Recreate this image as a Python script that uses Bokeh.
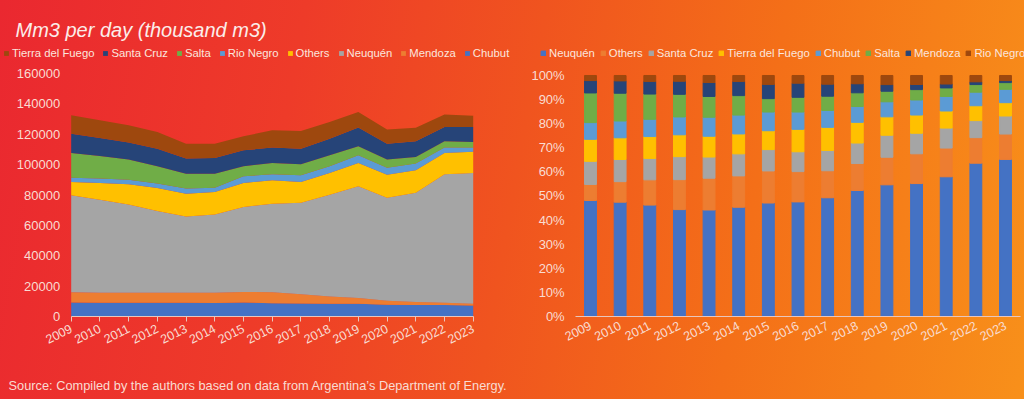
import numpy as np
from bokeh.plotting import figure
from bokeh.models import (ColumnDataSource, Range1d, FixedTicker, BasicTickFormatter,
                          NumeralTickFormatter, Legend, LegendItem, Label)
from bokeh.layouts import row
from bokeh.embed import file_html
from bokeh.resources import INLINE

# ---------------- data (thousand m3 per day) ----------------
years = list(range(2009, 2024))

chubut           = [9200, 9000, 9000, 9000, 9000, 8900, 9200, 8800, 8600, 8400, 8400, 7700, 7500, 7500, 7300]
mendoza          = [6800, 6600, 6600, 6600, 6600, 6700, 7000, 7200, 6100, 4800, 3700, 2600, 2000, 1500, 1100]
neuquen          = [63800, 61300, 58200, 53900, 50300, 51600, 55900, 58300, 60200, 67000, 73600, 67900, 72000, 84600, 86100]
others           = [8800, 11000, 13200, 15100, 15000, 14800, 15800, 15400, 13700, 14300, 15400, 15200, 14800, 14100, 13900]
rio_negro        = [2800, 2900, 3100, 2900, 3300, 2800, 4400, 3900, 4400, 4400, 5100, 4600, 4400, 3500, 2800]
salta            = [16300, 14900, 13200, 11400, 9800, 9200, 6600, 7500, 7200, 7300, 5900, 5300, 4400, 4200, 3700]
santa_cruz       = [12700, 11900, 11200, 11600, 10000, 10400, 10500, 10100, 10300, 10900, 12300, 10500, 10300, 9400, 9900]
tierra_del_fuego = [12100, 11600, 11400, 11000, 9800, 9400, 9300, 11400, 11700, 11000, 10300, 9300, 8800, 8200, 7300]

left_ticks = [0, 20000, 40000, 60000, 80000, 100000, 120000, 140000, 160000]
right_ticks = [0, 0.1, 0.2, 0.3, 0.4, 0.5, 0.6, 0.7, 0.8, 0.9, 1.0]

FONT = "Liberation Sans"
TXT = "#F9DCD2"
AXIS = "#E9C6BC"
GRADIENT = ("linear-gradient(100deg,#EA2830 0%,#EE3B29 28%,#F0541F 50%,"
            "#F46F18 72%,#F8901A 100%)")

C_BLUE, C_ORANGE, C_GRAY, C_YELLOW = "#4472C4", "#ED7D31", "#A5A5A5", "#FFC000"
C_LBLUE, C_GREEN, C_NAVY, C_BROWN = "#5B9BD5", "#70AD47", "#264478", "#9E480E"


def style(p):
    p.background_fill_alpha = 0
    p.border_fill_alpha = 0
    p.outline_line_color = None
    p.xgrid.visible = False
    p.ygrid.visible = False
    p.min_border_left = p.min_border_right = p.min_border_top = p.min_border_bottom = 0
    for ax in p.xaxis:
        ax.axis_line_color = AXIS
        ax.major_tick_line_color = AXIS
        ax.major_tick_in = 0
        ax.major_tick_out = 5
        ax.minor_tick_line_color = None
        ax.major_label_text_color = TXT
        ax.major_label_text_font = FONT
        ax.major_label_text_font_size = "12.5px"
        ax.major_label_orientation = 0.47
        ax.major_label_standoff = 8
        ax.fixed_location = 0
    for ax in p.yaxis:
        ax.axis_line_color = None
        ax.major_tick_line_color = None
        ax.major_tick_in = 0
        ax.major_tick_out = 0
        ax.minor_tick_line_color = None
        ax.major_label_text_color = TXT
        ax.major_label_text_font = FONT
        ax.major_label_text_font_size = "13px"
        ax.major_label_standoff = 11


def make_legend(items, x, y, spacing):
    return Legend(items=items, orientation="horizontal", location=(x, y),
                  background_fill_alpha=0, border_line_alpha=0, padding=0, margin=0,
                  spacing=spacing, glyph_width=6, glyph_height=6, label_standoff=3,
                  label_height=12, label_text_font=FONT, label_text_font_size="11.3px",
                  label_text_color="#FBE6DE")


# ---------------- left: stacked area ----------------
src = ColumnDataSource(dict(year=years, chubut=chubut, mendoza=mendoza, neuquen=neuquen,
                            others=others, rio_negro=rio_negro, salta=salta,
                            santa_cruz=santa_cruz, tdf=tierra_del_fuego))

left = figure(width=520, height=399, x_range=Range1d(2006.538, 2024.647),
              y_range=Range1d(-54650, 208066), output_backend="svg", toolbar_location=None)
style(left)
left.xaxis.ticker = FixedTicker(ticks=years)
left.xaxis.bounds = (2009, 2023)
left.xaxis.major_label_standoff = 6
left.yaxis.ticker = FixedTicker(ticks=left_ticks)
left.yaxis.formatter = BasicTickFormatter(use_scientific=False)
left.yaxis.fixed_location = 2009

stack_l = ["chubut", "mendoza", "neuquen", "others", "rio_negro", "salta", "santa_cruz", "tdf"]
cols_l = [C_BLUE, C_ORANGE, C_GRAY, C_YELLOW, C_LBLUE, C_GREEN, C_NAVY, C_BROWN]
rl = left.varea_stack(stack_l, x="year", color=cols_l, source=src)
rmap = dict(zip(stack_l, rl))
names_l = [("Tierra del Fuego", "tdf"), ("Santa Cruz", "santa_cruz"), ("Salta", "salta"),
           ("Rio Negro", "rio_negro"), ("Others", "others"), ("Neuquén", "neuquen"),
           ("Mendoza", "mendoza"), ("Chubut", "chubut")]
left.add_layout(make_legend([LegendItem(label=n, renderers=[rmap[k]]) for n, k in names_l],
                            3, 340, 8))

left.add_layout(Label(x=15, y=370, x_units="screen", y_units="screen",
                      text="Mm3 per day (thousand m3)", text_font=FONT, text_font_size="20px",
                      text_font_style="italic", text_color="#FBEDEA", text_baseline="alphabetic"))
left.add_layout(Label(x=8, y=14, x_units="screen", y_units="screen",
                      text="Source: Compiled by the authors based on data from Argentina’s Department of Energy.",
                      text_font=FONT, text_font_size="12.8px", text_color=TXT, text_baseline="middle"))

# ---------------- right: 100% stacked bars ----------------
tot = (np.array(chubut) + np.array(mendoza) + np.array(neuquen) + np.array(others) +
       np.array(rio_negro) + np.array(salta) + np.array(santa_cruz) + np.array(tierra_del_fuego))
src2 = ColumnDataSource(dict(
    year=years,
    neuquen=np.array(neuquen) / tot, others=np.array(others) / tot,
    santa_cruz=np.array(santa_cruz) / tot, tdf=np.array(tierra_del_fuego) / tot,
    chubut=np.array(chubut) / tot, salta=np.array(salta) / tot,
    mendoza=np.array(mendoza) / tot, rio_negro=np.array(rio_negro) / tot))

right = figure(width=504, height=399, x_range=Range1d(2006.639, 2023.641),
               y_range=Range1d(-0.3444, 1.3112), output_backend="svg", toolbar_location=None)
style(right)
right.xaxis.ticker = FixedTicker(ticks=years)
right.xaxis.bounds = (2008.5, 2023.5)
right.xaxis.major_tick_out = 0
right.yaxis.ticker = FixedTicker(ticks=right_ticks)
right.yaxis.formatter = NumeralTickFormatter(format="0%")
right.yaxis.fixed_location = 2008.5

stack_r = ["neuquen", "others", "santa_cruz", "tdf", "chubut", "salta", "mendoza", "rio_negro"]
cols_r = [C_BLUE, C_ORANGE, C_GRAY, C_YELLOW, C_LBLUE, C_GREEN, C_NAVY, C_BROWN]
names_r = ["Neuquén", "Others", "Santa Cruz", "Tierra del Fuego", "Chubut", "Salta", "Mendoza", "Rio Negro"]
rr = right.vbar_stack(stack_r, x="year", width=0.4, color=cols_r, source=src2)
right.add_layout(make_legend([LegendItem(label=n, renderers=[r]) for n, r in zip(names_r, rr)],
                             20, 340, 5))

layout = row(left, right, styles={"background": GRADIENT})
html = file_html(layout, INLINE, title="Gas production by province")
css = "<style>html{min-height:100%;background:" + GRADIENT + ";}</style>"
html = html.replace("</head>", css + "</head>", 1)
open("out.html", "w").write(html)
